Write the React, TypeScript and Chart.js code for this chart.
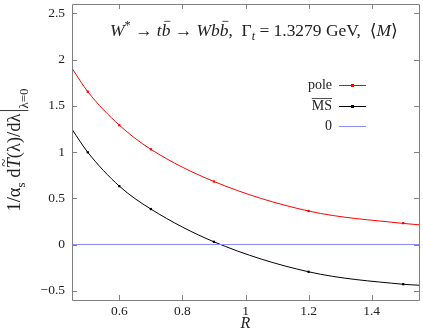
import React, { useEffect, useRef } from "react";
import { Chart, registerables } from "chart.js";

Chart.register(...registerables);

// ---- data ----
const dataR = [0.5, 0.6, 0.7, 0.9, 1.2, 1.5];
const poleValues = [1.652, 1.29, 1.029, 0.681, 0.362, 0.231];
const msValues = [0.997, 0.631, 0.383, 0.029, -0.295, -0.429];

const fitR = [0.45, 0.5, 0.6, 0.7, 0.9, 1.2, 1.5, 1.55];
const poleFit = [1.905, 1.652, 1.29, 1.029, 0.681, 0.362, 0.228, 0.213];
const msFit = [1.245, 0.997, 0.631, 0.383, 0.029, -0.295, -0.43, -0.44];

const zeroR = [0.45, 1.55];
const zeroValues = [0, 0];

const xTicks = [0.6, 0.8, 1, 1.2, 1.4];
const yTicks = [-0.5, 0, 0.5, 1, 1.5, 2, 2.5];

const legendLabels = ["pole", "MS", "0"];
const xTitle = "R";

const RED = "rgb(255,0,0)";
const BLACK = "rgb(0,0,0)";
const BLUE = "rgb(140,140,255)";
const SERIF = '"Liberation Serif", "DejaVu Serif", serif';
const TXT = "#222";

type Seg = { t: string; i?: boolean; sub?: boolean; sup?: boolean; bar?: boolean; tilde?: boolean };

function segFont(s: Seg, size: number) {
  const sz = s.sub || s.sup ? size * 0.7 : size;
  return `${s.i ? "italic " : ""}${sz}px ${SERIF}`;
}

function measureRich(ctx: CanvasRenderingContext2D, segs: Seg[], size: number) {
  let w = 0;
  for (const s of segs) {
    ctx.font = segFont(s, size);
    w += ctx.measureText(s.t).width;
  }
  return w;
}

function drawRich(ctx: CanvasRenderingContext2D, segs: Seg[], x: number, y: number, size: number) {
  let cx = x;
  ctx.textBaseline = "alphabetic";
  ctx.textAlign = "left";
  for (const s of segs) {
    ctx.font = segFont(s, size);
    const w = ctx.measureText(s.t).width;
    const dy = s.sub ? size * 0.25 : s.sup ? -size * 0.4 : 0;
    ctx.fillText(s.t, cx, y + dy);
    if (s.bar) {
      ctx.save();
      ctx.strokeStyle = ctx.fillStyle as string;
      ctx.lineWidth = 0.8;
      ctx.beginPath();
      const by = y - size * 0.84;
      ctx.moveTo(cx + w * 0.3, by);
      ctx.lineTo(cx + w * 1.0, by);
      ctx.stroke();
      ctx.restore();
    }
    if (s.tilde) {
      ctx.save();
      ctx.font = `${size * 0.8}px ${SERIF}`;
      ctx.textAlign = "center";
      ctx.fillText("~", cx + w * 0.55, y - size * 0.62);
      ctx.restore();
    }
    cx += w;
  }
  return cx - x;
}

const titleSegs: Seg[] = [
  { t: "W", i: true },
  { t: "*", sup: true },
  { t: " → " },
  { t: "t", i: true },
  { t: "b", i: true, bar: true },
  { t: " → " },
  { t: "W", i: true },
  { t: "b", i: true },
  { t: "b", i: true, bar: true },
  { t: ",  Γ" },
  { t: "t", i: true, sub: true },
  { t: " = 1.3279 GeV,  ⟨" },
  { t: "M", i: true },
  { t: "⟩" },
];

const yTitleSegs: Seg[] = [
  { t: "1/α" },
  { t: "s", sub: true },
  { t: " d" },
  { t: "T", i: true, tilde: true },
  { t: "(λ)/dλ" },
];

const overlayPlugin = {
  id: "overlay",
  afterDraw(chart: any) {
    const ctx: CanvasRenderingContext2D = chart.ctx;
    const a = chart.chartArea;
    const xs = chart.scales.x;
    const ys = chart.scales.y;
    ctx.save();
    // frame
    ctx.strokeStyle = "#808080";
    ctx.lineWidth = 1;
    ctx.beginPath();
    ctx.rect(Math.round(a.left) + 0.5, Math.round(a.top) + 0.5, Math.round(a.right - a.left), Math.round(a.bottom - a.top));
    ctx.stroke();
    // inward ticks
    const tl = 5;
    ctx.beginPath();
    for (const v of yTicks) {
      const py = Math.round(ys.getPixelForValue(v)) + 0.5;
      ctx.moveTo(a.left, py);
      ctx.lineTo(a.left + tl, py);
      ctx.moveTo(a.right, py);
      ctx.lineTo(a.right - tl, py);
    }
    for (const v of xTicks) {
      const px = Math.round(xs.getPixelForValue(v)) + 0.5;
      ctx.moveTo(px, a.bottom);
      ctx.lineTo(px, a.bottom - tl);
      ctx.moveTo(px, a.top);
      ctx.lineTo(px, a.top + tl);
    }
    ctx.stroke();

    ctx.fillStyle = TXT;
    // title, fitted to the reference width
    const tw0 = measureRich(ctx, titleSegs, 16);
    const tsize = 16 * (288 / tw0);
    drawRich(ctx, titleSegs, 110, 36, tsize);

    // x title
    ctx.font = `italic 16px ${SERIF}`;
    ctx.textAlign = "center";
    ctx.textBaseline = "alphabetic";
    ctx.fillText(xTitle, (a.left + a.right) / 2, 328);

    // y title (rotated)
    ctx.save();
    ctx.translate(20, 150);
    ctx.rotate(-Math.PI / 2);
    const base = 16;
    const w1b = measureRich(ctx, yTitleSegs, base);
    ctx.font = `${base * 0.7}px ${SERIF}`;
    const w2b = ctx.measureText("λ=0").width;
    const size = base * (124 / (w1b + 5 + w2b));
    const w1 = measureRich(ctx, yTitleSegs, size);
    ctx.font = `${size * 0.7}px ${SERIF}`;
    const w2 = ctx.measureText("λ=0").width;
    const total = w1 + 5 + w2;
    let sx = -total / 2;
    drawRich(ctx, yTitleSegs, sx, 0, size);
    sx += w1 + 3;
    ctx.strokeStyle = TXT;
    ctx.lineWidth = 0.9;
    ctx.beginPath();
    ctx.moveTo(sx, -size * 1.1);
    ctx.lineTo(sx, size * 0.45);
    ctx.stroke();
    ctx.font = `${size * 0.7}px ${SERIF}`;
    ctx.textAlign = "left";
    ctx.fillText("λ=0", sx + 2, size * 0.45);
    ctx.restore();

    // legend
    const colors = [RED, BLACK, BLUE];
    const markers = [true, true, false];
    const ly = [85, 106, 126];
    for (let i = 0; i < legendLabels.length; i++) {
      ctx.font = `14px ${SERIF}`;
      ctx.textAlign = "right";
      ctx.textBaseline = "middle";
      ctx.fillStyle = TXT;
      ctx.fillText(legendLabels[i], 332, ly[i]);
      if (legendLabels[i] === "MS") {
        const w = ctx.measureText("MS").width;
        ctx.strokeStyle = TXT;
        ctx.lineWidth = 0.8;
        ctx.beginPath();
        ctx.moveTo(332 - w, ly[i] - 7.5);
        ctx.lineTo(332, ly[i] - 7.5);
        ctx.stroke();
      }
      ctx.strokeStyle = colors[i];
      ctx.lineWidth = 1;
      ctx.beginPath();
      ctx.moveTo(339, ly[i] + 0.5);
      ctx.lineTo(366, ly[i] + 0.5);
      ctx.stroke();
      if (markers[i]) {
        ctx.fillStyle = colors[i];
        ctx.fillRect(351, ly[i] - 1, 3, 3);
      }
    }
    ctx.restore();
  },
};

export default function App() {
  const ref = useRef<HTMLCanvasElement | null>(null);
  useEffect(() => {
    if (!ref.current) return;
    const pts = (xs: number[], ys: number[]) => xs.map((x, i) => ({ x, y: ys[i] }));
    const chart = new Chart(ref.current, {
      type: "line",
      data: {
        datasets: [
          {
            data: pts(zeroR, zeroValues),
            borderColor: BLUE,
            borderWidth: 1,
            pointRadius: 0,
          },
          {
            data: pts(fitR, poleFit),
            borderColor: RED,
            borderWidth: 1,
            pointRadius: 0,
            cubicInterpolationMode: "monotone",
          },
          {
            data: pts(fitR, msFit),
            borderColor: BLACK,
            borderWidth: 1,
            pointRadius: 0,
            cubicInterpolationMode: "monotone",
          },
          {
            data: pts(dataR, poleValues),
            showLine: false,
            pointStyle: "rect",
            pointRadius: 1.6,
            backgroundColor: RED,
            borderColor: RED,
            borderWidth: 0,
          },
          {
            data: pts(dataR, msValues),
            showLine: false,
            pointStyle: "rect",
            pointRadius: 1.6,
            backgroundColor: BLACK,
            borderColor: BLACK,
            borderWidth: 0,
          },
        ] as any,
      },
      options: {
        animation: false,
        responsive: false,
        layout: { padding: { top: 0, right: 3, left: 0, bottom: 0 } },
        plugins: { legend: { display: false }, tooltip: { enabled: false } },
        scales: {
          x: {
            type: "linear",
            min: 0.45,
            max: 1.55,
            afterBuildTicks: (s: any) => {
              s.ticks = xTicks.map((v) => ({ value: v }));
            },
            afterFit: (s: any) => {
              s.height = 30;
              s.paddingLeft = 0;
              s.paddingRight = 0;
            },
            grid: { display: false, drawTicks: false },
            border: { display: false },
            ticks: {
              font: { family: SERIF, size: 13.5 },
              color: TXT,
              padding: 3,
              maxRotation: 0,
              callback: (v: any) => String(Number(v)),
            },
          },
          y: {
            type: "linear",
            min: -0.6,
            max: 2.6,
            afterBuildTicks: (s: any) => {
              s.ticks = yTicks.map((v) => ({ value: v }));
            },
            afterFit: (s: any) => {
              s.width = 72;
              s.paddingTop = 0;
              s.paddingBottom = 0;
            },
            grid: { display: false, drawTicks: false },
            border: { display: false },
            ticks: {
              font: { family: SERIF, size: 13.5 },
              color: TXT,
              padding: 7,
              callback: (v: any) => String(Number(v)).replace("-", "−"),
            },
          },
        },
      },
      plugins: [overlayPlugin],
    });
    return () => chart.destroy();
  }, []);
  return (
    <div style={{ position: "fixed", left: 0, top: 0, width: 423, height: 330, background: "#fff" }}>
      <canvas ref={ref} width={423} height={330} style={{ width: 423, height: 330, display: "block" }} />
    </div>
  );
}
